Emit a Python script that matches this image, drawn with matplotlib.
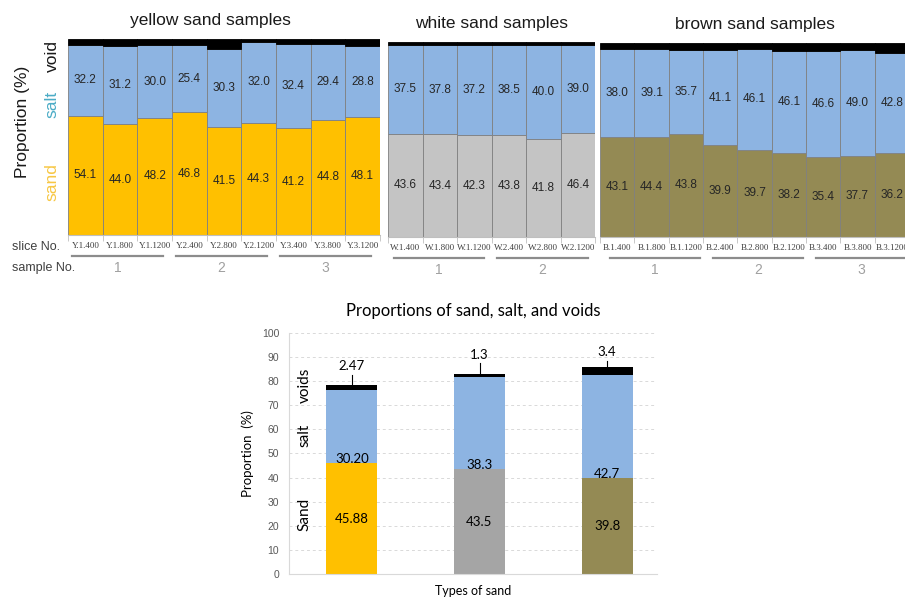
import numpy as np
import matplotlib.pyplot as plt

# colours picked off the original figure
SAND_YELLOW = "#ffc000"
SAND_WHITE = "#c4c4c4"
SAND_WHITE_DARK = "#a5a5a5"
SAND_BROWN = "#948a54"
SALT_BLUE = "#8db4e2"
VOID_BLACK = "#000000"

# per-slice data (sand / salt as labelled, void estimated from the black caps)
yellow_slices = ["Y.1.400", "Y.1.800", "Y.1.1200", "Y.2.400", "Y.2.800",
                 "Y.2.1200", "Y.3.400", "Y.3.800", "Y.3.1200"]
yellow_sand = [54.1, 44.0, 48.2, 46.8, 41.5, 44.3, 41.2, 44.8, 48.1]
yellow_salt = [32.2, 31.2, 30.0, 25.4, 30.3, 32.0, 32.4, 29.4, 28.8]
yellow_void = [2.6, 2.7, 2.5, 2.4, 3.7, 1.0, 2.1, 2.1, 3.0]

white_slices = ["W.1.400", "W.1.800", "W.1.1200", "W.2.400", "W.2.800", "W.2.1200"]
white_sand = [43.6, 43.4, 42.3, 43.8, 41.8, 46.4]
white_salt = [37.5, 37.8, 37.2, 38.5, 40.0, 39.0]
white_void = [1.2, 1.3, 1.3, 1.2, 1.4, 1.3]

brown_slices = ["B.1.400", "B.1.800", "B.1.1200", "B.2.400", "B.2.800",
                "B.2.1200", "B.3.400", "B.3.800", "B.3.1200"]
brown_sand = [43.1, 44.4, 43.8, 39.9, 39.7, 38.2, 35.4, 37.7, 36.2]
brown_salt = [38.0, 39.1, 35.7, 41.1, 46.1, 46.1, 46.6, 49.0, 42.8]
brown_void = [2.6, 2.7, 2.8, 3.2, 2.7, 3.5, 3.4, 3.1, 4.3]

# averages per sand type
sand_types = ["yellow", "white", "brown"]
mean_sand = [45.88, 43.5, 39.8]
mean_salt = [30.20, 38.3, 42.7]
mean_void = [2.47, 1.3, 3.4]
mean_sand_text = ["45.88", "43.5", "39.8"]
mean_salt_text = ["30.20", "38.3", "42.7"]
mean_void_text = ["2.47", "1.3", "3.4"]

W, H = 905, 599


def px_axes(fig, x0, y0, x1, y1):
    # axes from pixel box (top-left origin)
    return fig.add_axes([x0 / W, 1 - y1 / H, (x1 - x0) / W, (y1 - y0) / H])


def draw_samples(ax, slices, sand, salt, void, sand_color, title, shift, title_x=0.5):
    """
    100% stacked bars of one sand type, labelled with the raw values.
    """
    sand = np.array(sand)
    salt = np.array(salt)
    void = np.array(void)
    total = sand + salt + void
    p_sand = sand / total * 100
    p_salt = salt / total * 100
    p_void = void / total * 100
    x = np.arange(len(slices))

    ax.bar(x, p_sand, width=1.0, color=sand_color, edgecolor="#808080", linewidth=0.6)
    ax.bar(x, p_salt, bottom=p_sand, width=1.0, color=SALT_BLUE,
           edgecolor="#808080", linewidth=0.6)
    ax.bar(x, p_void, bottom=p_sand + p_salt, width=1.0, color=VOID_BLACK,
           edgecolor=VOID_BLACK, linewidth=0.6)

    for xi, s, sl, ps, pl in zip(x, sand, salt, p_sand, p_salt):
        ax.text(xi, ps / 2, f"{s:.1f}", ha="center", va="center",
                fontsize=8.5, color="#262626")
        ax.text(xi, ps + pl / 2, f"{sl:.1f}", ha="center", va="center",
                fontsize=8.5, color="#262626")

    ax.set_xlim(-0.5, len(x) - 0.5)
    ax.set_ylim(0, 100)
    ax.set_yticks([])
    ax.set_xticks(x, slices, fontsize=6.5, family="Liberation Serif", color="#404040")
    ax.set_xticks(np.arange(-0.5, len(x)), minor=True)
    ax.tick_params(axis="x", which="major", length=0, pad=5)
    ax.tick_params(axis="x", which="minor", length=4, color="#bfbfbf")
    for side in ["left", "top", "right"]:
        ax.spines[side].set_visible(False)
    ax.spines["bottom"].set_color("#bfbfbf")
    ax.set_title(title, fontsize=12.5, color="#1a1a1a", pad=10, x=title_x)

    # sample groups: grey line + number under the slice labels
    tr = ax.get_xaxis_transform()
    for g in range(len(x) // 3):
        a = g * 3 - 0.38 + shift
        b = g * 3 + 2.24 + shift
        ax.plot([a, b], [-0.107, -0.107], color="#8c8c8c", lw=1.6,
                transform=tr, clip_on=False)
        ax.text((a + b) / 2, -0.168, str(g + 1), transform=tr, ha="center",
                va="center", fontsize=10, color="#a0a0a0")


plt.rcParams["font.family"] = ["Liberation Sans", "DejaVu Sans"]
fig = plt.figure(figsize=(W / 100, H / 100), dpi=100)

ax_y = px_axes(fig, 68, 39, 380, 235)
draw_samples(ax_y, yellow_slices, yellow_sand, yellow_salt, yellow_void,
             SAND_YELLOW, "yellow sand samples", 0.0, title_x=0.455)
ax_w = px_axes(fig, 388, 42, 595, 237)
draw_samples(ax_w, white_slices, white_sand, white_salt, white_void,
             SAND_WHITE, "white sand samples", 0.05)
ax_b = px_axes(fig, 600, 43, 909, 237)
draw_samples(ax_b, brown_slices, brown_sand, brown_salt, brown_void,
             SAND_BROWN, "brown sand samples", 0.18)

fig.text(12 / W, 1 - 247 / H, "slice No.", fontsize=9, color="#404040", va="center")
fig.text(12 / W, 1 - 268 / H, "sample No.", fontsize=9, color="#404040", va="center")
fig.text(22 / W, 1 - 122 / H, "Proportion (%)", rotation=90, fontsize=12.5,
         ha="center", va="center", color="#1a1a1a")
fig.text(52 / W, 1 - 56 / H, "void", rotation=90, fontsize=12.5,
         ha="center", va="center", color="#1a1a1a")
fig.text(52 / W, 1 - 104 / H, "salt", rotation=90, fontsize=12.5,
         ha="center", va="center", color="#4bacc6")
fig.text(52 / W, 1 - 182 / H, "sand", rotation=90, fontsize=12.5,
         ha="center", va="center", color="#f7c744")

# ---- averages chart ----
ax = px_axes(fig, 289, 332.7, 657, 574.3)
x = np.arange(len(sand_types))
sand = np.array(mean_sand)
salt = np.array(mean_salt)
void = np.array(mean_void)
ax.bar(x, sand, width=0.4, color=[SAND_YELLOW, SAND_WHITE_DARK, SAND_BROWN], zorder=2)
ax.bar(x, salt, bottom=sand, width=0.4, color=SALT_BLUE, zorder=2)
ax.bar(x, void, bottom=sand + salt, width=0.4, color=VOID_BLACK, zorder=2)

lato = ["Lato", "DejaVu Sans"]
void_offsets = [7.5, 7.7, 6.0]
for xi, s, t_sand, t_salt, t_void, top, off in zip(
        x, sand, mean_sand_text, mean_salt_text, mean_void_text,
        sand + salt + void, void_offsets):
    ax.text(xi, s / 2, t_sand, ha="center", va="center", fontsize=9.5, family=lato)
    ax.text(xi, s + 1.8, t_salt, ha="center", va="center", fontsize=9.5,
            family=lato, zorder=3)
    ax.plot([xi, xi], [top, top + off - 3.5], color="black", lw=0.8, zorder=3)
    ax.text(xi, top + off, t_void, ha="center", va="center", fontsize=9.5, family=lato)

ax.set_xlim(-0.494, 2.392)
ax.set_ylim(0, 100)
ax.set_yticks(np.arange(0, 101, 10))
ax.set_xticks([])
ax.tick_params(axis="y", length=0, labelsize=7.5, labelcolor="#595959", pad=7)
ax.grid(axis="y", linestyle=(0, (3, 3)), color="#d9d9d9", lw=0.7, zorder=0)
for side in ["top", "right"]:
    ax.spines[side].set_visible(False)
for side in ["left", "bottom"]:
    ax.spines[side].set_color("#d9d9d9")
ax.set_title("Proportions of sand, salt, and voids", fontsize=12, family=lato, pad=12)
ax.set_xlabel("Types of sand", fontsize=9, family=lato, labelpad=8)
ax.set_ylabel("Proportion  (%)", fontsize=9.5, family=lato, labelpad=6)
for label, yv in [("Sand", 24.9), ("salt", 57.7), ("voids", 78.4)]:
    ax.text(-0.37, yv, label, rotation=90, ha="center", va="center",
            fontsize=11, family=lato)

fig.savefig("out.png", dpi=100)
